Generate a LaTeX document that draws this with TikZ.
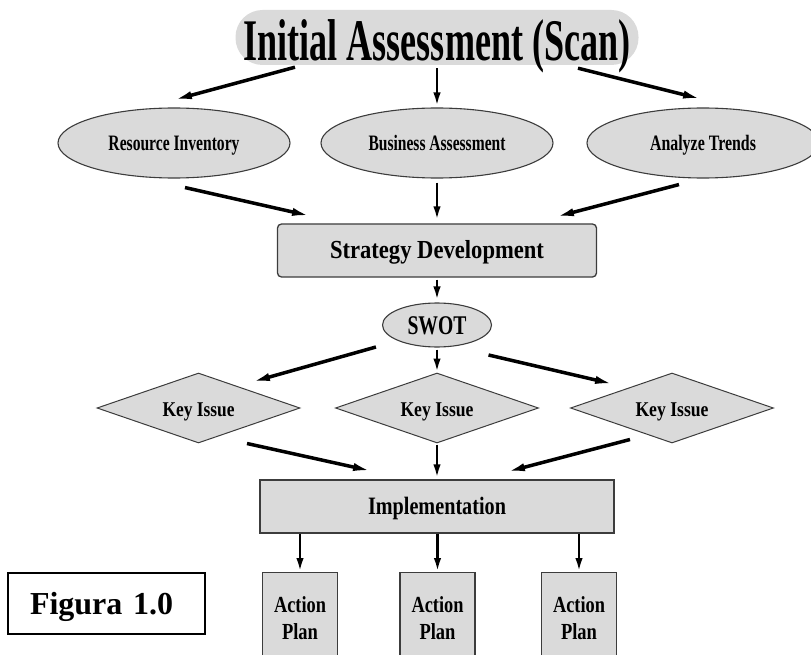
\documentclass[tikz,border=0pt]{standalone}
\usepackage{fontspec}
\setmainfont{Liberation Serif}[BoldFont={Liberation Serif Bold}]
\usetikzlibrary{shapes.geometric,arrows.meta,calc}
\definecolor{boxfill}{RGB}{218,218,218}
\definecolor{edgec}{RGB}{60,60,60}
\newcommand\sqz[2]{\resizebox{#1pt}{\height}{#2}}
\begin{document}
\begin{tikzpicture}[x=1pt,y=-1pt,
  every node/.style={inner sep=0pt},
  titlebox/.style={rectangle, rounded corners=27pt, fill=boxfill, minimum width=403pt, minimum height=55pt,
     font=\bfseries\fontsize{59}{63}\selectfont, text height=46pt, text depth=0pt},
  ell/.style={ellipse, draw=edgec, line width=1.1pt, fill=boxfill, minimum width=232pt, minimum height=70pt,
     font=\bfseries\fontsize{22}{24}\selectfont, text height=15pt, text depth=0pt},
  rbox/.style={rectangle, draw=edgec, line width=1.3pt, fill=boxfill, font=\bfseries\fontsize{26}{28}\selectfont},
  dia/.style={diamond, aspect=2.9, draw=edgec, line width=1pt, fill=boxfill, minimum width=203pt, minimum height=70pt,
     font=\bfseries\fontsize{21}{23}\selectfont, text height=18pt, text depth=1pt},
  apbox/.style={rectangle, draw=edgec, line width=1.3pt, fill=boxfill, minimum width=75pt, minimum height=91pt,
     anchor=north, align=center, font=\bfseries\fontsize{23}{27}\selectfont},
  thk/.style={line width=3.5pt, -{Latex[length=20pt,width=8pt]}},
  thn/.style={line width=2.2pt, -{Latex[length=13pt,width=7.5pt]}}
]
\useasboundingbox (0,0) rectangle (811,655);
\clip (0,0) rectangle (811,655);

% nodes
\node[titlebox] (title) at (437,37.5) {\sqz{387}{Initial Assessment (Scan)}};
\node[ell] (ri) at (174,143) {\sqz{131}{Resource Inventory}};
\node[ell] (ba) at (437,143) {\sqz{137}{Business Assessment}};
\node[ell] (at) at (703,143) {\sqz{106}{Analyze Trends}};
\node[rbox, rounded corners=4pt, minimum width=319pt, minimum height=53pt, text height=18pt, text depth=2pt] (sd) at (437,250.5) {\sqz{214}{Strategy Development}};
\node[ell, minimum width=109pt, minimum height=44pt, font=\bfseries\fontsize{27}{29}\selectfont, text height=18pt, text depth=0pt] (swot) at (437,325) {\sqz{59}{SWOT}};
\node[dia] (ki1) at (198.5,408) {\sqz{72}{Key Issue}};
\node[dia] (ki2) at (437,408) {\sqz{73}{Key Issue}};
\node[dia] (ki3) at (672,408) {\sqz{73}{Key Issue}};
\node[rbox, minimum width=354pt, minimum height=53pt, font=\bfseries\fontsize{25}{27}\selectfont, text height=17pt, text depth=2pt] (impl) at (437,506.5) {\sqz{138}{Implementation}};
\node[apbox] (ap1) at (300,572) {\sqz{52}{Action}\\\sqz{36}{Plan}};
\node[apbox] (ap2) at (437.5,572) {\sqz{52}{Action}\\\sqz{36}{Plan}};
\node[apbox] (ap3) at (579,572) {\sqz{52}{Action}\\\sqz{36}{Plan}};
\node[draw=black, line width=2pt, minimum width=197pt, minimum height=61pt, text width=153pt, inner xsep=22pt,
      align=left, text height=22pt, text depth=0pt, font=\bfseries\fontsize{32}{34}\selectfont] (fig) at (106.5,603.5) {Figura 1.0};

% connectors
\draw[thk] ($(title.south)+(-142,2)$) -- ($(ri.north)+(-2,-7)$);
\draw[thn] ($(ba.north |- title.south)+(0,3)$) -- ($(ba.north)+(0,-2)$);
\draw[thk] ($(title.south)+(141,3)$) -- ($(at.north)+(0,-8)$);

\draw[thk] ($(ri.south)+(11,9)$) -- ($(sd.north)+(-125,-7)$);
\draw[thn] ($(ba.south)+(0,4)$) -- ($(sd.north)+(0,-4)$);
\draw[thk] ($(at.south)+(-24,6)$) -- ($(sd.north)+(117,-6)$);

\draw[thn] ($(sd.south)+(0,2)$) -- ($(swot.north)+(0,-3)$);

\draw[thk] ($(swot.west)+(-6,22)$) -- ($(ki1.north)+(51.5,10)$);
\draw[thn] ($(swot.south)+(0,2)$) -- ($(ki2.north)+(0,-1)$);
\draw[thk] ($(swot.east)+(-3.5,30)$) -- ($(ki3.north)+(-57,12)$);

\draw[thk] ($(ki1.south)+(48.5,0)$) -- ($(impl.north)+(-64,-8)$);
\draw[thn] ($(ki2.south)+(0,1)$) -- ($(impl.north)+(0,-2)$);
\draw[thk] ($(ki3.south)+(-42,-4)$) -- ($(impl.north)+(68,-7)$);

\draw[thn] (ap1.north |- impl.south) -- ($(ap1.north)+(0,-1)$);
\draw[thn] (ap2.north |- impl.south) -- ($(ap2.north)+(0,-1)$);
\draw[thn] (ap3.north |- impl.south) -- ($(ap3.north)+(0,-1)$);
\end{tikzpicture}
\end{document}
